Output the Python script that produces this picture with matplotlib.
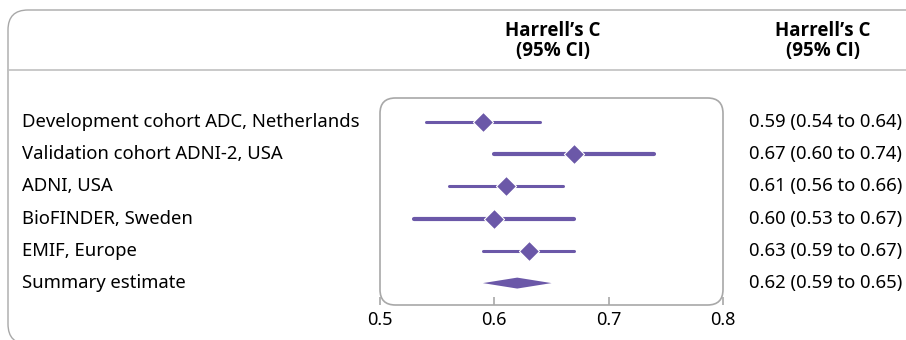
import matplotlib.pyplot as plt
import matplotlib.transforms as mtransforms
from matplotlib.patches import FancyBboxPatch
from matplotlib.lines import Line2D

# data
cohorts = ['Development cohort ADC, Netherlands', 'Validation cohort ADNI-2, USA',
           'ADNI, USA', 'BioFINDER, Sweden', 'EMIF, Europe']
est = [0.59, 0.67, 0.61, 0.60, 0.63]
lo = [0.54, 0.60, 0.56, 0.53, 0.59]
hi = [0.64, 0.74, 0.66, 0.67, 0.67]
lw_ci = [2.2, 3.0, 2.2, 3.0, 2.2]
summary_label = 'Summary estimate'
summary = (0.62, 0.59, 0.65)
xticks = [0.5, 0.6, 0.7, 0.8]
header = 'Harrell\u2019s C\n(95% CI)'

purple = '#6b58a8'
grey = '#a8a8a8'
plt.rcParams['font.family'] = ['Noto Sans', 'DejaVu Sans']

W, H = 906, 340
fig = plt.figure(figsize=(W / 100, H / 100), dpi=100)

# outer panel
fig.patches.append(FancyBboxPatch((8 / W, -4 / H), 1.2, (H - 6) / H,
                                  boxstyle='round,pad=0,rounding_size=0.022',
                                  transform=fig.transFigure, fc='none', ec=grey, lw=1.0,
                                  mutation_aspect=W / H))
fig.add_artist(Line2D([8 / W, 1], [1 - 70 / H, 1 - 70 / H], color='#c0c0c0', lw=1.2,
                      transform=fig.transFigure))

for hx in (553, 823):
    fig.text(hx / W, 1 - 41 / H, header, ha='center', va='center', fontsize=13.5,
             fontweight='bold', linespacing=1.0, family=['Open Sans', 'DejaVu Sans'])

ax = fig.add_axes([380 / W, 1 - 305 / H, 343 / W, 207 / H])
ax.set_xlim(0.5, 0.8)
ax.set_ylim(5.68, -0.745)
for s in ax.spines.values():
    s.set_visible(False)
ax.add_patch(FancyBboxPatch((0, 0), 1, 1, boxstyle='round,pad=0,rounding_size=0.045',
                            transform=ax.transAxes, fc='none', ec=grey, lw=1.2,
                            mutation_aspect=343 / 207, clip_on=False))

rows = list(range(len(cohorts)))
for i in rows:
    ax.plot([lo[i], hi[i]], [i, i], color=purple, lw=lw_ci[i], solid_capstyle='round')
ax.scatter(est, rows, marker='D', s=105, color=purple, edgecolor='white', lw=0.8, zorder=3)

sy = len(cohorts)
ax.fill([summary[1], summary[0], summary[2], summary[0]],
        [sy, sy - 0.17, sy, sy + 0.17], color=purple, lw=0)

ax.set_xticks(xticks)
ax.set_xticklabels([str(t) for t in xticks])
ax.tick_params(axis='x', direction='in', length=6, color=grey, width=1.2, labelsize=13,
               pad=4)
ax.set_yticks([])

blend = mtransforms.blended_transform_factory(fig.transFigure, ax.transData)
labels = cohorts + [summary_label]
vals = list(zip(est, lo, hi)) + [summary]
for i, (lab, v) in enumerate(zip(labels, vals)):
    ax.text(22 / W, i, lab, transform=blend, ha='left', va='center', fontsize=13.3,
            clip_on=False)
    ax.text(749 / W, i, f'{v[0]:.2f} ({v[1]:.2f} to {v[2]:.2f})', transform=blend,
            ha='left', va='center', fontsize=13.3, clip_on=False)

fig.savefig('out.png', dpi=100)
